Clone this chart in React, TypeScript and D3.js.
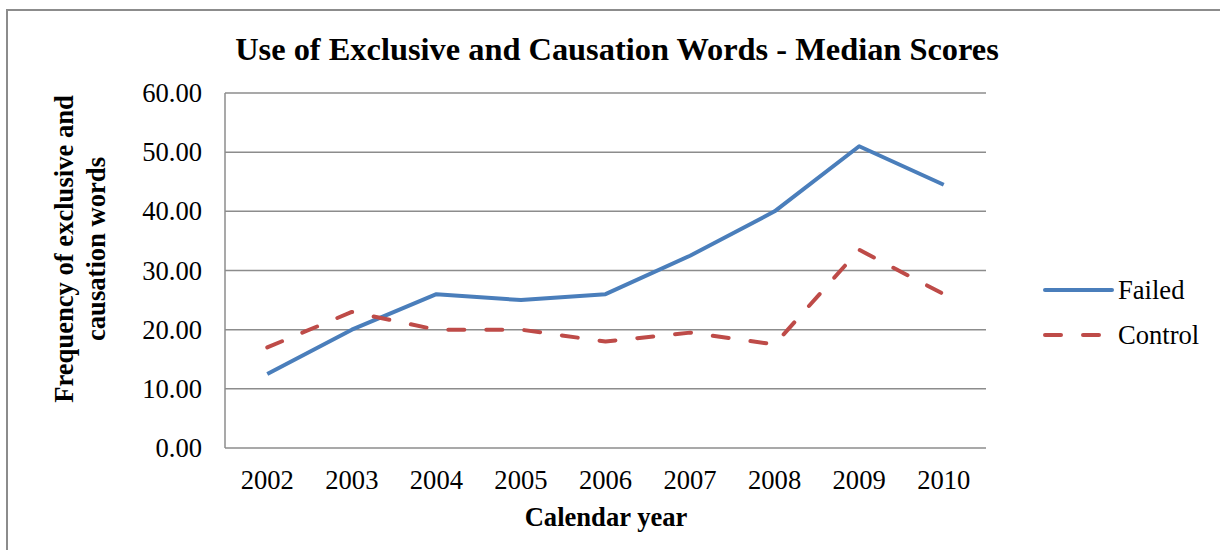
import React from "react";
import * as d3 from "d3";

const years = ["2002", "2003", "2004", "2005", "2006", "2007", "2008", "2009", "2010"];
const failed = [12.5, 20, 26, 25, 26, 32.5, 40, 51, 44.5];
const control = [17, 23, 20, 20, 18, 19.5, 17.5, 33.5, 26];
const yTicks = [0, 10, 20, 30, 40, 50, 60];
const seriesNames = ["Failed", "Control"];

const W = 1220;
const H = 550;
const plot = { left: 225, right: 986, top: 93, bottom: 448 };
const FONT = "'Liberation Serif', 'Times New Roman', serif";
const FS = 26.6;
const BLUE = "#4A7EBB";
const RED = "#BE4B48";
const GRID = "#8c8c8c";

export default function App() {
  const x = d3.scaleBand<string>().domain(years).range([plot.left, plot.right]);
  const y = d3.scaleLinear().domain([0, 60]).range([plot.bottom, plot.top]);
  const cx = (d: string) => (x(d) as number) + x.bandwidth() / 2;

  const line = d3
    .line<number>()
    .x((_, i) => cx(years[i]))
    .y((v) => y(v));

  const series = [
    { name: seriesNames[0], values: failed, color: BLUE, dash: undefined as string | undefined },
    { name: seriesNames[1], values: control, color: RED, dash: "16 22" },
  ];

  return (
    <svg
      width={W}
      height={H}
      style={{ position: "absolute", left: 0, top: 0, background: "#fff" }}
      fontFamily={FONT}
    >
      {/* chart frame */}
      <path d={`M7,${H} V10 H${W}`} fill="none" stroke={GRID} strokeWidth={2} />

      <text x={617} y={60} textAnchor="middle" fontSize={32.4} fontWeight="bold" fill="#000">
        Use of Exclusive and Causation Words  - Median Scores
      </text>

      {/* gridlines */}
      {yTicks.map((t) => (
        <line key={t} x1={plot.left} x2={plot.right} y1={y(t)} y2={y(t)} stroke={GRID} strokeWidth={1.5} />
      ))}
      <line x1={plot.left} x2={plot.left} y1={plot.top} y2={plot.bottom} stroke={GRID} strokeWidth={1.5} />

      {/* y tick labels */}
      {yTicks.map((t) => (
        <text key={t} x={202} y={y(t) + 9} textAnchor="end" fontSize={FS} fill="#000">
          {d3.format(".2f")(t)}
        </text>
      ))}

      {/* x tick labels */}
      {years.map((yr) => (
        <text key={yr} x={cx(yr)} y={489} textAnchor="middle" fontSize={FS} fill="#000">
          {yr}
        </text>
      ))}

      <text x={606} y={526} textAnchor="middle" fontSize={FS} fontWeight="bold" fill="#000">
        Calendar year
      </text>

      <g transform="translate(0,249) rotate(-90)" fontSize={FS} fontWeight="bold" fill="#000">
        <text x={0} y={73} textAnchor="middle">Frequency of exclusive and</text>
        <text x={0} y={105} textAnchor="middle">causation words</text>
      </g>

      {/* series lines */}
      {series.map((s) => (
        <path
          key={s.name}
          d={line(s.values) as string}
          fill="none"
          stroke={s.color}
          strokeWidth={4}
          strokeDasharray={s.dash}
          strokeLinecap={s.dash ? "round" : "butt"}
          strokeLinejoin="round"
        />
      ))}

      {/* legend */}
      {series.map((s, i) => {
        const ly = 290 + i * 45;
        return (
          <g key={s.name}>
            <line
              x1={1045}
              x2={1112}
              y1={ly}
              y2={ly}
              stroke={s.color}
              strokeWidth={4}
              strokeDasharray={s.dash}
              strokeLinecap="round"
            />
            <text x={1118} y={ly + 9} fontSize={FS} fill="#000">
              {s.name}
            </text>
          </g>
        );
      })}
    </svg>
  );
}
